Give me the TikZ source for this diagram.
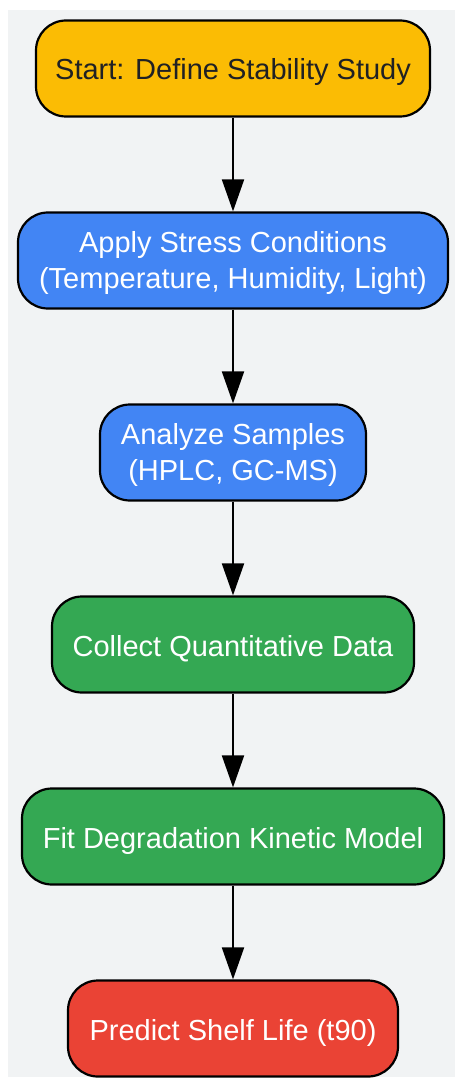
\documentclass[tikz,border=0pt]{standalone}
\usepackage{fontspec}
\setmainfont{Liberation Sans}
\usetikzlibrary{arrows.meta}
\definecolor{bggray}{HTML}{F1F3F4}
\definecolor{gyellow}{HTML}{FBBC04}
\definecolor{gblue}{HTML}{4285F4}
\definecolor{ggreen}{HTML}{34A853}
\definecolor{gred}{HTML}{EA4335}
\definecolor{darktext}{HTML}{202124}
\tikzset{
  flowbox/.style={draw=black, line width=2.2pt, rounded corners=30pt, align=center,
    inner sep=0pt, font=\fontsize{29}{36}\selectfont, minimum height=96pt},
  oneline/.style={text height=25pt, text depth=2pt},
  twoline/.style={text height=58pt, text depth=2pt},
  flowarrow/.style={line width=2pt, -{Triangle[width=22pt,length=32pt]}}
}
\begin{document}
\begin{tikzpicture}[x=1pt,y=-1pt]
\useasboundingbox (0,0) rectangle (455,1078);
\fill[bggray] (8,10) rectangle (455,1077);
\node[flowbox, oneline, fill=gyellow, text=darktext, minimum width=394pt] (n1) at (233,68.5) {Start: Define Stability Study};
\node[flowbox, twoline, fill=gblue, text=white, minimum width=430pt] (n2) at (233,260.5) {Apply Stress Conditions\\(Temperature, Humidity, Light)};
\node[flowbox, twoline, fill=gblue, text=white, minimum width=266pt] (n3) at (233,452.5) {Analyze Samples\\(HPLC, GC-MS)};
\node[flowbox, oneline, fill=ggreen, text=white, minimum width=362pt] (n4) at (233,644.5) {Collect Quantitative Data};
\node[flowbox, oneline, fill=ggreen, text=white, minimum width=422pt] (n5) at (233,836.5) {Fit Degradation Kinetic Model};
\node[flowbox, oneline, fill=gred, text=white, minimum width=330pt] (n6) at (233,1028.5) {Predict Shelf Life (t90)};
\draw[flowarrow] (n1) -- (n2);
\draw[flowarrow] (n2) -- (n3);
\draw[flowarrow] (n3) -- (n4);
\draw[flowarrow] (n4) -- (n5);
\draw[flowarrow] (n5) -- (n6);
\end{tikzpicture}
\end{document}
